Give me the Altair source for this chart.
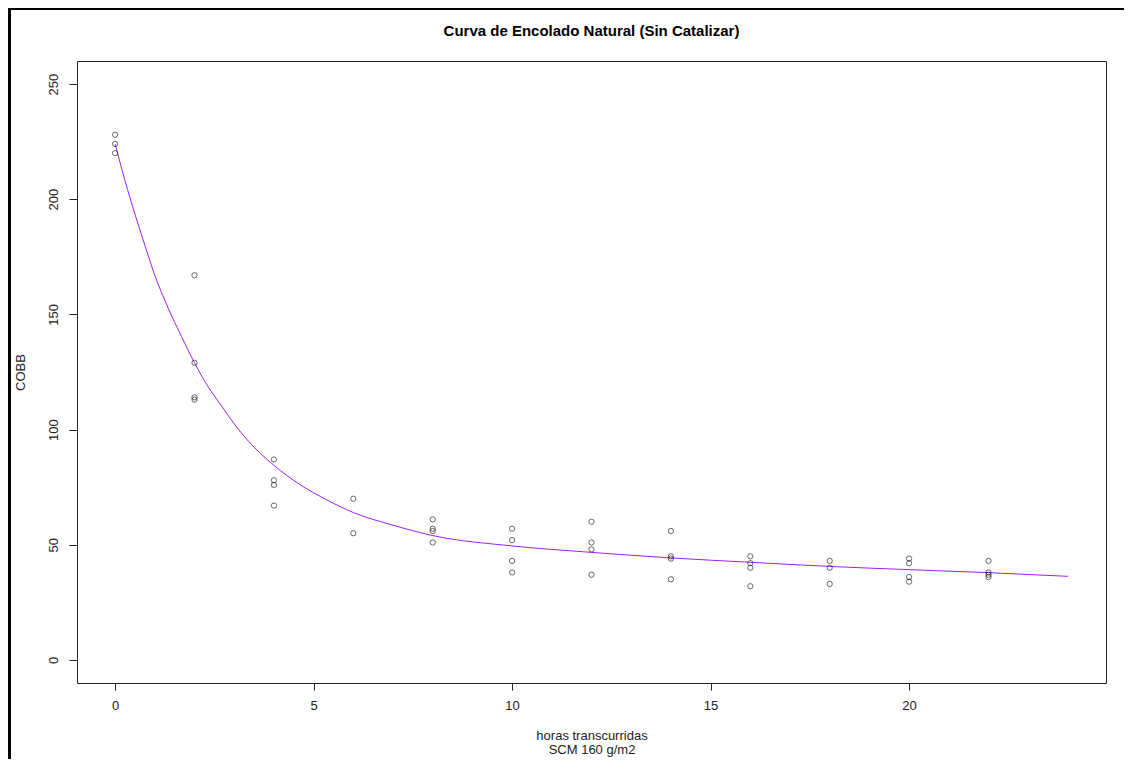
import altair as alt
import pandas as pd

# observed points
obs_x = [0, 0, 0,
         2, 2, 2, 2,
         4, 4, 4, 4,
         6, 6,
         8, 8, 8, 8,
         10, 10, 10, 10,
         12, 12, 12, 12,
         14, 14, 14, 14,
         16, 16, 16, 16,
         18, 18, 18,
         20, 20, 20, 20,
         22, 22, 22, 22]
obs_y = [228, 224, 220,
         167, 129, 114, 113,
         87, 78, 76, 67,
         70, 55,
         61, 57, 56, 51,
         57, 52, 43, 38,
         60, 51, 48, 37,
         56, 45, 44, 35,
         45, 42, 40, 32,
         43, 40, 33,
         44, 42, 36, 34,
         43, 38, 37, 36]

# fitted curve
curve_x = [0, 0.25, 0.5, 0.75, 1, 1.33, 1.67, 2, 2.33, 2.67, 3, 3.33, 4, 4.67,
           5.33, 6, 7, 8, 10, 12, 14, 16, 18, 20, 22, 24]
curve_y = [224, 208, 193.5, 180, 167, 153, 140.5, 129, 119, 110.5, 102.5, 95.5,
           84.5, 76, 69.5, 64, 58.5, 54, 49.5, 46.7, 44.3, 42.4, 40.6, 39.2,
           37.9, 36.3]

x_ticks = [0, 5, 10, 15, 20]
y_ticks = [0, 50, 100, 150, 200, 250]
title_text = "Curva de Encolado Natural (Sin Catalizar)"

obs = pd.DataFrame({"x": obs_x, "y": obs_y})
curve = pd.DataFrame({"x": curve_x, "y": curve_y})

xscale = alt.Scale(domain=[-0.96, 24.96], nice=False, zero=False)
yscale = alt.Scale(domain=[-10, 260], nice=False, zero=False)

xaxis = alt.Axis(
    title=["horas transcurridas", "SCM 160 g/m2"],
    values=x_ticks, grid=False, domain=False,
    tickSize=7, tickColor="#222", labelColor="#222", labelFontSize=13,
    labelFont="Liberation Sans", labelPadding=9, labelBaseline="top",
    titleFont="Liberation Sans", titleFontSize=13, titleFontWeight="normal",
    titleColor="#222", titleLineHeight=14.5, titleY=46, titleBaseline="top",
)
yaxis = alt.Axis(
    title="COBB",
    values=y_ticks, grid=False, domain=False,
    tickSize=8, tickColor="#222", labelColor="#222", labelFontSize=13,
    labelFont="Liberation Sans", labelAngle=270, labelAlign="center",
    labelBaseline="bottom", labelPadding=9,
    titleFont="Liberation Sans", titleFontSize=13, titleFontWeight="normal",
    titleColor="#222", titleAngle=270, titleX=-63, titleY=311,
    titleBaseline="top", titleAlign="center",
)

points = alt.Chart(obs).mark_point(
    shape="circle", filled=False, color="#111", size=28, strokeWidth=0.9
).encode(
    x=alt.X("x:Q", scale=xscale, axis=xaxis),
    y=alt.Y("y:Q", scale=yscale, axis=yaxis),
)

line = alt.Chart(curve).mark_line(
    color="#A020F0", strokeWidth=1, interpolate="monotone"
).encode(
    x=alt.X("x:Q", scale=xscale),
    y=alt.Y("y:Q", scale=yscale),
)

one = pd.DataFrame({"a": [0]})
border_left = alt.Chart(one).mark_rule(color="black", strokeWidth=4).encode(
    x=alt.value(-68), y=alt.value(-60), y2=alt.value(720)
)
border_top = alt.Chart(one).mark_rule(color="black", strokeWidth=4).encode(
    x=alt.value(-70), x2=alt.value(1060), y=alt.value(-53)
)
title = alt.Chart(one).mark_text(
    font="Liberation Sans", fontSize=15, fontWeight="bold", color="black",
    align="center", baseline="middle"
).encode(
    x=alt.value(514.5), y=alt.value(-30), text=alt.value(title_text)
)

chart = alt.layer(line, points, border_left, border_top, title).properties(
    width=1029,
    height=622,
    padding={"left": 69, "top": 53, "right": 18, "bottom": 76},
    autosize=alt.AutoSizeParams(type="none"),
    background="white",
).configure_view(
    stroke="#222", strokeWidth=1
)

chart.save("out.html", embed_options={"renderer": "svg", "actions": False})
